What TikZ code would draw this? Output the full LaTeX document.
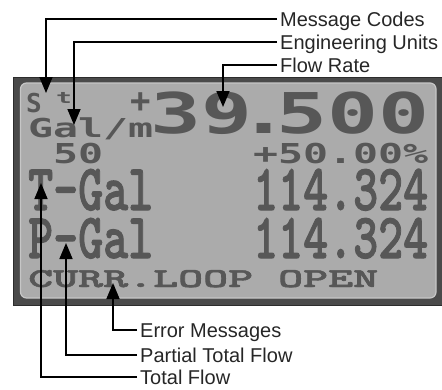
\documentclass[tikz,border=0pt]{standalone}
\usepackage{fontspec}
\setmainfont{Liberation Sans}
\newfontfamily\lcdA{DejaVu Sans Mono}
\newfontfamily\lcdC{lmmonolt10-bold.otf}[FakeBold=1.6]
\usetikzlibrary{arrows.meta}
\definecolor{framecol}{HTML}{4A4A4A}
\definecolor{frameedge}{HTML}{2C2C2C}
\definecolor{panelcol}{HTML}{ABABAB}
\definecolor{paneledge}{HTML}{C6C6C6}
\definecolor{lcdink}{HTML}{575757}
\definecolor{labink}{HTML}{262626}
% pixel style text: font size, x stretch, text
\newcommand{\lcdpix}[3]{\scalebox{#2}[1]{\lcdA\fontsize{#1}{#1}\selectfont\bfseries #3}}
% serif style text: width, height, text
\newcommand{\lcdser}[3]{\resizebox{#1}{#2}{\lcdC\fontsize{20}{20}\selectfont #3}}
\begin{document}
\begin{tikzpicture}[x=1pt,y=-1pt,
  lcd/.style={inner sep=0pt, text=lcdink, anchor=base west},
  lab/.style={font=\fontsize{20}{24}\selectfont, text=labink, text height=14pt,
              text depth=0pt, inner sep=3pt, anchor=west},
  conn/.style={draw=black, line width=1.6pt, -{Triangle[width=13pt,length=16pt]}}]
\useasboundingbox (0,0) rectangle (442,389);
% display frame and panel
\fill[framecol, draw=frameedge, line width=1pt] (13.5,77.5) rectangle (442,305);
\filldraw[fill=panelcol, draw=paneledge, line width=1.2pt, rounded corners=6pt]
  (20.5,83) rectangle (436,298);
% LCD contents
\node[lcd] (lS) at (26,112) {\lcdpix{26}{1}{S}};
\node[lcd] (lt) at (56,103) {\lcdpix{15.7}{1.67}{t}};
\node[inner sep=0pt, text=lcdink] (lplus) at (140.5,102.5) {\lcdpix{34}{1}{+}};
\node[lcd] (lbigA) at (150,133) {\lcdpix{56.2}{1.507}{39}};
\node[lcd] (lbigdot) at (238,133) {\lcdpix{56.2}{1.507}{.}};
\node[lcd] (lbigB) at (276,133) {\lcdpix{56.2}{1.507}{500}};
\node[lcd] (lunits) at (28,137) {\lcdpix{26.06}{1.593}{Gal/m}};
\node[lcd] (lfifty) at (53,163) {\lcdpix{27.4}{1.516}{50}};
\node[lcd] (lpct) at (253,163) {\lcdpix{27.4}{1.516}{+50.00\%}};
\node[lcd] (ltgal) at (28,210) {\lcdser{125pt}{41pt}{T-Gal}};
\node[lcd] (ltval) at (253,210) {\lcdser{175pt}{41pt}{114.324}};
\node[lcd] (lpgal) at (28,258) {\lcdser{125pt}{40pt}{P-Gal}};
\node[lcd] (lpval) at (253,258) {\lcdser{175pt}{40pt}{114.324}};
\node[lcd] (lerr) at (28,287) {\lcdser{350pt}{17pt}{CURR.LOOP OPEN}};
% arrow targets
\coordinate (tipS) at (46,93);
\coordinate (tipG) at (74,125);
\coordinate (tipF) at (223,107);
\coordinate (tipT) at (41,183);
\coordinate (tipP) at (66,243);
\coordinate (tipE) at (113,283);
% labels
\node[lab] (mc) at (277,19) {Message Codes};
\node[lab] (eu) at (277,42) {Engineering Units};
\node[lab] (fr) at (277,65) {Flow Rate};
\node[lab] (em) at (137,330) {Error Messages};
\node[lab] (ptf) at (137,355) {Partial Total Flow};
\node[lab] (tf) at (137,377) {Total Flow};
% connectors
\draw[conn] (mc.west) -| (tipS);
\draw[conn] (eu.west) -| (tipG);
\draw[conn] (fr.west) -| (tipF);
\draw[conn] (em.west) -| (tipE);
\draw[conn] (ptf.west) -| (tipP);
\draw[conn] (tf.west) -| (tipT);
\end{tikzpicture}
\end{document}
